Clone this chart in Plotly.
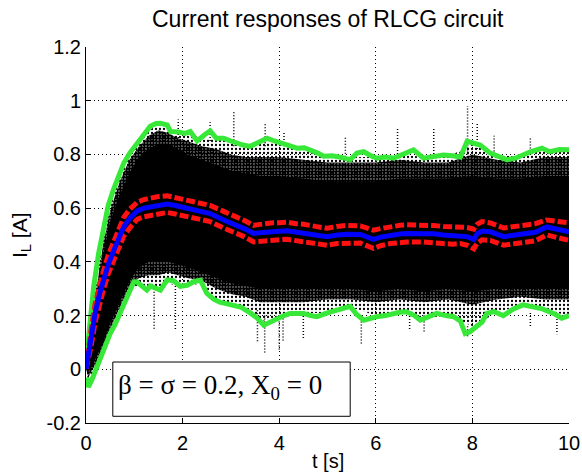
import plotly.graph_objects as go

# ---------------- data ----------------
x_ticks = [0, 2, 4, 6, 8, 10]
x_tick_labels = ["0", "2", "4", "6", "8", "10"]
y_ticks = [-0.2, 0, 0.2, 0.4, 0.6, 0.8, 1.0, 1.2]
y_tick_labels = ["-0.2", "0", "0.2", "0.4", "0.6", "0.8", "1", "1.2"]

# mean response (blue) and mean +/- std (red)
t_mean = [0, 0.05, 0.1, 0.19, 0.28, 0.36, 0.46, 0.57, 0.68, 0.78,
          0.9, 1.06, 1.2, 1.33, 1.5, 1.68, 1.85, 2.09, 2.3, 2.57,
          2.85, 3.13, 3.3, 3.47, 3.65, 3.82, 4.0, 4.16, 4.35, 4.51,
          4.75, 4.99, 5.2, 5.4, 5.68, 5.95, 6.1, 6.3, 6.5, 6.64,
          6.99, 7.2, 7.4, 7.6, 7.75, 7.89, 8.03, 8.1, 8.2, 8.37,
          8.65, 8.89, 9.1, 9.3, 9.54, 9.75, 10]
i_mean = [0, 0.06, 0.11, 0.21, 0.28, 0.33, 0.39, 0.44, 0.49, 0.53,
          0.56, 0.59, 0.60, 0.605, 0.612, 0.615, 0.61, 0.60, 0.592, 0.58,
          0.556, 0.537, 0.522, 0.506, 0.51, 0.512, 0.514, 0.516, 0.512, 0.508,
          0.50, 0.494, 0.50, 0.503, 0.502, 0.484, 0.492, 0.50, 0.504, 0.506,
          0.506, 0.505, 0.50, 0.498, 0.50, 0.494, 0.484, 0.505, 0.515, 0.512,
          0.494, 0.50, 0.506, 0.51, 0.53, 0.52, 0.512]
i_std_hi = [0, 0.08, 0.14, 0.245, 0.315, 0.365, 0.425, 0.475, 0.525, 0.565,
            0.595, 0.622, 0.632, 0.638, 0.643, 0.646, 0.64, 0.63, 0.622, 0.61,
            0.588, 0.568, 0.552, 0.536, 0.542, 0.545, 0.546, 0.548, 0.542, 0.54,
            0.532, 0.525, 0.532, 0.536, 0.534, 0.518, 0.524, 0.532, 0.536, 0.538,
            0.538, 0.535, 0.532, 0.53, 0.532, 0.528, 0.522, 0.54, 0.55, 0.545,
            0.526, 0.532, 0.538, 0.542, 0.556, 0.55, 0.545]
i_std_lo = [0, 0.04, 0.08, 0.175, 0.245, 0.295, 0.355, 0.405, 0.455, 0.495,
            0.525, 0.558, 0.568, 0.572, 0.58, 0.584, 0.578, 0.57, 0.562, 0.55,
            0.526, 0.507, 0.492, 0.474, 0.478, 0.48, 0.482, 0.484, 0.48, 0.476,
            0.468, 0.462, 0.468, 0.47, 0.47, 0.45, 0.46, 0.468, 0.472, 0.474,
            0.474, 0.473, 0.468, 0.466, 0.468, 0.462, 0.448, 0.47, 0.482, 0.48,
            0.462, 0.468, 0.474, 0.478, 0.5, 0.49, 0.48]

# upper envelope (green)
t_env_hi = [0.02, 0.1, 0.16, 0.26, 0.36, 0.46, 0.57, 0.68, 0.78, 0.91,
            1.06, 1.2, 1.33, 1.45, 1.54, 1.68, 1.75, 1.91, 2.05, 2.16,
            2.3, 2.45, 2.57, 2.7, 2.85, 3.0, 3.13, 3.25, 3.40, 3.55,
            3.75, 3.9, 4.02, 4.2, 4.37, 4.52, 4.64, 4.8, 4.92, 5.1,
            5.33, 5.47, 5.61, 5.75, 5.9, 6.02, 6.2, 6.37, 6.55, 6.78,
            6.99, 7.2, 7.40, 7.6, 7.75, 7.89, 8.0, 8.16, 8.37, 8.55,
            8.72, 8.89, 9.05, 9.2, 9.44, 9.6, 9.8, 10]
i_env_hi = [0.06, 0.2, 0.31, 0.43, 0.53, 0.61, 0.67, 0.72, 0.767, 0.806,
            0.842, 0.87, 0.905, 0.915, 0.916, 0.91, 0.885, 0.884, 0.878, 0.885,
            0.85, 0.872, 0.888, 0.86, 0.86, 0.85, 0.84, 0.835, 0.83, 0.843,
            0.86, 0.85, 0.842, 0.83, 0.823, 0.825, 0.817, 0.805, 0.793, 0.795,
            0.787, 0.78, 0.805, 0.81, 0.795, 0.786, 0.79, 0.786, 0.80, 0.817,
            0.786, 0.79, 0.798, 0.795, 0.79, 0.849, 0.845, 0.835, 0.805, 0.79,
            0.78, 0.786, 0.80, 0.81, 0.823, 0.81, 0.818, 0.817]

# lower envelope (green)
t_env_lo = [0.02, 0.05, 0.12, 0.23, 0.36, 0.5, 0.61, 0.71, 0.82, 0.92,
            0.99, 1.05, 1.15, 1.26, 1.33, 1.45, 1.54, 1.68, 1.81, 1.95,
            2.09, 2.23, 2.37, 2.5, 2.65, 2.77, 2.9, 3.06, 3.2, 3.4,
            3.55, 3.68, 3.8, 3.95, 4.1, 4.23, 4.37, 4.51, 4.65, 4.78,
            5.0, 5.2, 5.35, 5.47, 5.6, 5.75, 5.9, 6.02, 6.2, 6.37,
            6.5, 6.64, 6.8, 6.92, 7.1, 7.26, 7.45, 7.61, 7.75, 7.85,
            7.95, 8.09, 8.2, 8.3, 8.44, 8.64, 8.85, 9.05, 9.27, 9.45,
            9.68, 9.85, 10]
i_env_lo = [-0.03, -0.066, -0.04, 0.01, 0.06, 0.133, 0.17, 0.21, 0.255, 0.295,
            0.326, 0.326, 0.31, 0.295, 0.31, 0.30, 0.295, 0.333, 0.33, 0.309,
            0.313, 0.326, 0.332, 0.283, 0.26, 0.25, 0.245, 0.239, 0.232, 0.21,
            0.19, 0.164, 0.175, 0.19, 0.2, 0.208, 0.208, 0.208, 0.2, 0.196,
            0.21, 0.22, 0.225, 0.234, 0.205, 0.183, 0.19, 0.196, 0.2, 0.208,
            0.212, 0.214, 0.2, 0.183, 0.195, 0.208, 0.2, 0.196, 0.18, 0.133,
            0.14, 0.158, 0.176, 0.208, 0.215, 0.20, 0.225, 0.24, 0.234, 0.225,
            0.208, 0.19, 0.20]

# extent of the cloud of sample paths (black dots)
t_cloud = [0, 0.05, 0.2, 0.35, 0.5, 0.7, 0.9, 1.1, 1.3, 1.5,
           1.7, 1.9, 2.1, 2.4, 2.7, 3.0, 3.3, 3.6, 4.0, 4.5,
           5.0, 5.5, 6.0, 6.5, 7.0, 7.5, 8.0, 8.5, 9.0, 9.5, 10]
cloud_sparse_lo = [0, -0.05, 0.0, 0.06, 0.13, 0.21, 0.29, 0.31, 0.30, 0.30,
                   0.32, 0.31, 0.31, 0.32, 0.25, 0.24, 0.22, 0.18, 0.19, 0.21,
                   0.21, 0.23, 0.2, 0.21, 0.19, 0.2, 0.16, 0.21, 0.24, 0.22, 0.2]
cloud_mid_lo = [0, -0.03, 0.02, 0.08, 0.15, 0.23, 0.31, 0.34, 0.35, 0.35,
                0.36, 0.35, 0.34, 0.33, 0.30, 0.28, 0.27, 0.25, 0.25, 0.25,
                0.26, 0.26, 0.25, 0.26, 0.25, 0.26, 0.24, 0.26, 0.27, 0.26, 0.26]
cloud_dense_lo = [0, -0.01, 0.04, 0.1, 0.17, 0.25, 0.33, 0.38, 0.40, 0.40,
                  0.40, 0.39, 0.38, 0.36, 0.34, 0.32, 0.31, 0.30, 0.30, 0.30,
                  0.30, 0.30, 0.29, 0.30, 0.29, 0.30, 0.29, 0.30, 0.30, 0.30, 0.30]
cloud_dense_hi = [0, 0.09, 0.25, 0.42, 0.55, 0.65, 0.73, 0.79, 0.82, 0.84,
                  0.84, 0.82, 0.80, 0.78, 0.76, 0.74, 0.73, 0.72, 0.72, 0.71,
                  0.70, 0.70, 0.70, 0.71, 0.71, 0.71, 0.72, 0.71, 0.71, 0.72, 0.72]
cloud_mid_hi = [0, 0.11, 0.28, 0.46, 0.59, 0.70, 0.78, 0.83, 0.87, 0.89,
                0.88, 0.86, 0.85, 0.83, 0.82, 0.80, 0.79, 0.79, 0.79, 0.78,
                0.77, 0.77, 0.77, 0.78, 0.77, 0.77, 0.80, 0.78, 0.77, 0.79, 0.79]
cloud_sparse_hi = [0, 0.13, 0.30, 0.5, 0.63, 0.73, 0.8, 0.85, 0.89, 0.91,
                   0.90, 0.88, 0.88, 0.86, 0.86, 0.85, 0.83, 0.85, 0.84, 0.82,
                   0.79, 0.79, 0.79, 0.8, 0.79, 0.79, 0.84, 0.8, 0.79, 0.82, 0.81]

# isolated excursions of single paths
t_spike_dn = [1.41, 1.85, 3.55, 3.7, 4.0, 4.08, 4.5, 5.7, 6.7, 7.0, 7.9, 9.2, 9.75]
i_spike_dn_from = [0.30, 0.31, 0.22, 0.2, 0.2, 0.2, 0.21, 0.2, 0.21, 0.2, 0.16, 0.21, 0.21]
i_spike_dn_to = [0.15, 0.15, 0.1, 0.06, 0.07, 0.1, 0.11, 0.09, 0.15, 0.14, 0.12, 0.16, 0.13]
t_spike_up = [1.91, 2.57, 3.06, 3.71, 4.1, 5.37, 6.45, 7.2, 7.9, 8.1, 8.45, 9.2]
i_spike_up_from = [0.85, 0.85, 0.83, 0.83, 0.82, 0.78, 0.79, 0.79, 0.8, 0.82, 0.8, 0.8]
i_spike_up_to = [0.93, 0.92, 0.96, 0.92, 0.88, 0.87, 0.9, 0.9, 0.98, 0.92, 0.87, 0.86]

title_text = "Current responses of RLCG circuit"
x_label = "t [s]"
y_label = "I<sub>L</sub> [A]"
note_text = "β = σ = 0.2, X<sub>0</sub> = 0"
note_box_x = [0.555, 5.47]
note_box_y = [-0.175, 0.027]

# ---------------- styles ----------------
GREEN = "#38e838"
RED = "#ff1111"
BLUE = "#0000ff"
SANS = "Liberation Sans, Arial, sans-serif"
SERIF = "Liberation Serif, Times New Roman, serif"

fig = go.Figure()

def band(lo, hi, fill_kwargs):
    fig.add_trace(go.Scatter(x=t_cloud, y=lo, mode="lines",
                             line=dict(width=0, color="black"),
                             hoverinfo="skip", showlegend=False))
    fig.add_trace(go.Scatter(x=t_cloud, y=hi, mode="lines",
                             line=dict(width=0, color="black"),
                             fill="tonexty", hoverinfo="skip",
                             showlegend=False, **fill_kwargs))

band(cloud_sparse_lo, cloud_sparse_hi,
     dict(fillcolor="rgba(0,0,0,0)",
          fillpattern=dict(shape=".", size=4, solidity=0.25,
                           fgcolor="black", bgcolor="rgba(0,0,0,0)",
                           fgopacity=1)))
band(cloud_mid_lo, cloud_mid_hi,
     dict(fillcolor="rgba(0,0,0,0)",
          fillpattern=dict(shape=".", size=3, solidity=0.8,
                           fgcolor="black", bgcolor="rgba(0,0,0,0)",
                           fgopacity=1)))
band(cloud_dense_lo, cloud_dense_hi, dict(fillcolor="black"))

# spikes (vertical dotted streaks)
sx, sy = [], []
for t, a, b in zip(t_spike_dn, i_spike_dn_from, i_spike_dn_to):
    sx += [t, t, None]
    sy += [a, b, None]
for t, a, b in zip(t_spike_up, i_spike_up_from, i_spike_up_to):
    sx += [t, t, None]
    sy += [a, b, None]
fig.add_trace(go.Scatter(x=sx, y=sy, mode="lines",
                         line=dict(color="black", width=1.5, dash="1px,2px"),
                         hoverinfo="skip", showlegend=False))

# envelopes
fig.add_trace(go.Scatter(x=t_env_hi, y=i_env_hi, mode="lines",
                         line=dict(color=GREEN, width=5), showlegend=False))
fig.add_trace(go.Scatter(x=t_env_lo, y=i_env_lo, mode="lines",
                         line=dict(color=GREEN, width=5), showlegend=False))
# mean +/- std
fig.add_trace(go.Scatter(x=t_mean, y=i_std_hi, mode="lines",
                         line=dict(color=RED, width=5, dash="9px,3px"),
                         showlegend=False))
fig.add_trace(go.Scatter(x=t_mean, y=i_std_lo, mode="lines",
                         line=dict(color=RED, width=5, dash="9px,3px"),
                         showlegend=False))
# mean
fig.add_trace(go.Scatter(x=t_mean, y=i_mean, mode="lines",
                         line=dict(color=BLUE, width=5), showlegend=False))

axis_common = dict(
    showgrid=True, gridcolor="black", griddash="1px,3px", gridwidth=1,
    showline=True, linecolor="black", linewidth=1,
    ticks="inside", ticklen=5, tickcolor="black", tickwidth=1,
    zeroline=False, mirror=False, automargin=False,
    tickfont=dict(family=SANS, size=20, color="black"),
)

fig.update_xaxes(range=[0, 10], tickmode="array", tickvals=x_ticks,
                 ticktext=x_tick_labels, ticklabelstandoff=2, **axis_common)
fig.update_yaxes(range=[-0.2, 1.2], tickmode="array", tickvals=y_ticks,
                 ticktext=y_tick_labels, **axis_common)

fig.add_shape(type="rect", xref="x", yref="y",
              x0=note_box_x[0], x1=note_box_x[1],
              y0=note_box_y[0], y1=note_box_y[1],
              fillcolor="white", line=dict(color="black", width=1),
              layer="above")

annotations = [
    dict(text=note_text, xref="x", yref="y", x=note_box_x[0], xshift=3,
         y=(note_box_y[0] + note_box_y[1]) / 2, yshift=2, xanchor="left",
         yanchor="middle", showarrow=False,
         font=dict(family=SERIF, size=27, color="black")),
    dict(text=title_text, xref="paper", yref="paper", x=0.5, y=1,
         yshift=13, xanchor="center", yanchor="bottom", showarrow=False,
         font=dict(family=SANS, size=23, color="black")),
    dict(text=x_label, xref="paper", yref="paper", x=0.5, y=0,
         yshift=-51, xanchor="center", yanchor="bottom", showarrow=False,
         font=dict(family=SANS, size=20, color="black")),
    dict(text=y_label, xref="paper", yref="paper", x=0, y=0.5,
         xshift=-50, xanchor="right", yanchor="middle", textangle=-90,
         showarrow=False, font=dict(family=SANS, size=21, color="black")),
]

fig.update_layout(
    width=582, height=475,
    margin=dict(l=86, r=13, t=47, b=52),
    paper_bgcolor="white", plot_bgcolor="white",
    showlegend=False,
    annotations=annotations,
)

fig.write_html("out.html",
               config={"displayModeBar": False},
               post_script="document.body.style.margin='0px';")
